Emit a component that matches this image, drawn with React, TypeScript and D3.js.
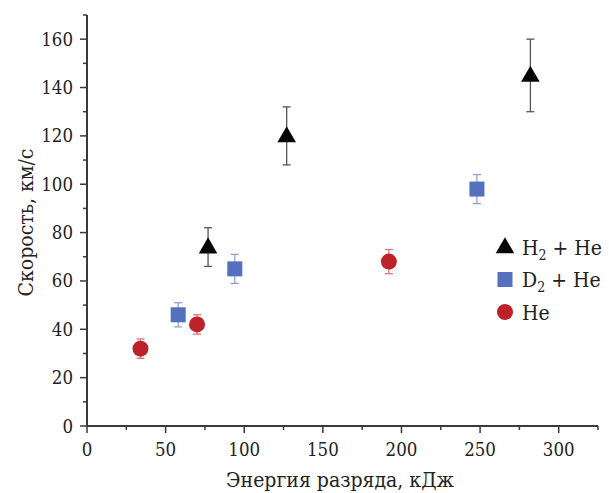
import React from "react";
import * as d3 from "d3";

// Energy (kJ), velocity (km/s) and error bounds for each gas mixture
const h2Energy = [77, 127, 282];
const h2Speed = [74, 120, 145];
const h2Low = [66, 108, 130];
const h2High = [82, 132, 160];

const d2Energy = [58, 94, 248];
const d2Speed = [46, 65, 98];
const d2Low = [41, 59, 92];
const d2High = [51, 71, 104];

const heEnergy = [34, 70, 192];
const heSpeed = [32, 42, 68];
const heLow = [28, 38, 63];
const heHigh = [36, 46, 73];

const xTicks = [0, 50, 100, 150, 200, 250, 300];
const yTicks = [0, 20, 40, 60, 80, 100, 120, 140, 160];
const legendLabels = ["H2 + He", "D2 + He", "He"];

const W = 609;
const H = 493;
const margin = { left: 87, right: 11, top: 15, bottom: 67 };
const FONT = "'DejaVu Serif Condensed', 'DejaVu Serif', serif";
const AXIS = "#3a3a3a";

export default function App() {
  const x = d3.scaleLinear().domain([0, 325]).range([margin.left, W - margin.right]);
  const y = d3.scaleLinear().domain([0, 170]).range([H - margin.bottom, margin.top]);
  const x0 = x(0);
  const y0 = y(0);

  const xMinor = d3.range(25, 326, 50);
  const yMinor = d3.range(10, 171, 20);

  const series = [
    { e: h2Energy, v: h2Speed, lo: h2Low, hi: h2High, color: "#050505", err: "#555", shape: "tri" },
    { e: d2Energy, v: d2Speed, lo: d2Low, hi: d2High, color: "#5470bf", err: "#8fa2d8", shape: "sq" },
    { e: heEnergy, v: heSpeed, lo: heLow, hi: heHigh, color: "#bd2129", err: "#d9777c", shape: "circ" },
  ];

  const marker = (shape: string, cx: number, cy: number, color: string, key?: string) => {
    if (shape === "tri") {
      const s = d3.symbol(d3.symbolTriangle, 150)();
      return <path key={key} d={s || ""} transform={`translate(${cx},${cy + 1})`} fill={color} />;
    }
    if (shape === "sq") {
      return <rect key={key} x={cx - 7.5} y={cy - 7.5} width={15} height={15} fill={color} />;
    }
    return <circle key={key} cx={cx} cy={cy} r={8} fill={color} />;
  };

  const txt = { fontFamily: FONT, fontStretch: "condensed", fill: "#222" } as React.CSSProperties;

  return (
    <svg width={W} height={H} style={{ display: "block", position: "absolute", left: 0, top: 0, fontFamily: FONT }}>
      <rect width={W} height={H} fill="#fff" />
      {/* error bars */}
      {series.map((s, si) =>
        s.e.map((e, i) => (
          <g key={`err-${si}-${i}`} stroke={s.err} strokeWidth={1.3}>
            <line x1={x(e)} x2={x(e)} y1={y(s.lo[i])} y2={y(s.hi[i])} />
            <line x1={x(e) - 4} x2={x(e) + 4} y1={y(s.lo[i])} y2={y(s.lo[i])} />
            <line x1={x(e) - 4} x2={x(e) + 4} y1={y(s.hi[i])} y2={y(s.hi[i])} />
          </g>
        ))
      )}
      {/* markers */}
      {series.map((s, si) => s.e.map((e, i) => marker(s.shape, x(e), y(s.v[i]), s.color, `m-${si}-${i}`)))}

      {/* axes */}
      <line x1={x0} x2={x0} y1={y(170)} y2={y0} stroke={AXIS} strokeWidth={2} />
      <line x1={x0} x2={x(325)} y1={y0} y2={y0} stroke={AXIS} strokeWidth={2} />
      {xTicks.map((t) => (
        <g key={`xt-${t}`}>
          <line x1={x(t)} x2={x(t)} y1={y0} y2={y0 + 7} stroke={AXIS} strokeWidth={1.5} />
          <text x={x(t)} y={y0 + 30} textAnchor="middle" style={{ ...txt, fontSize: 18.5 }}>
            {t}
          </text>
        </g>
      ))}
      {xMinor.map((t) => (
        <line key={`xm-${t}`} x1={x(t)} x2={x(t)} y1={y0} y2={y0 + 4} stroke={AXIS} strokeWidth={1.5} />
      ))}
      {yTicks.map((t) => (
        <g key={`yt-${t}`}>
          <line x1={x0 - 7} x2={x0} y1={y(t)} y2={y(t)} stroke={AXIS} strokeWidth={1.5} />
          <text x={x0 - 14} y={y(t) + 6.5} textAnchor="end" style={{ ...txt, fontSize: 18.5 }}>
            {t}
          </text>
        </g>
      ))}
      {yMinor.map((t) => (
        <line key={`ym-${t}`} x1={x0 - 4} x2={x0} y1={y(t)} y2={y(t)} stroke={AXIS} strokeWidth={1.5} />
      ))}

      {/* axis titles */}
      <text x={340} y={487} textAnchor="middle" style={{ ...txt, fontSize: 21 }}>
        Энергия разряда, кДж
      </text>
      <text
        transform={`translate(33,${(y(0) + y(170)) / 2 + 2}) rotate(-90)`}
        textAnchor="middle"
        style={{ ...txt, fontSize: 21 }}
      >
        Скорость, км/с
      </text>

      {/* legend */}
      {series.map((s, i) => {
        const ly = 247 + i * 32.5;
        const [base, rest] = legendLabels[i].startsWith("He")
          ? [legendLabels[i], ""]
          : [legendLabels[i].slice(0, 1), legendLabels[i].slice(2)];
        return (
          <g key={`leg-${i}`}>
            {marker(s.shape, 505, ly, s.color)}
            <text x={522} y={ly + 7.5} style={{ ...txt, fontSize: 21 }}>
              {base}
              {rest && (
                <>
                  <tspan fontSize={14} dy={5}>2</tspan>
                  <tspan dy={-5}>{rest}</tspan>
                </>
              )}
            </text>
          </g>
        );
      })}
    </svg>
  );
}
